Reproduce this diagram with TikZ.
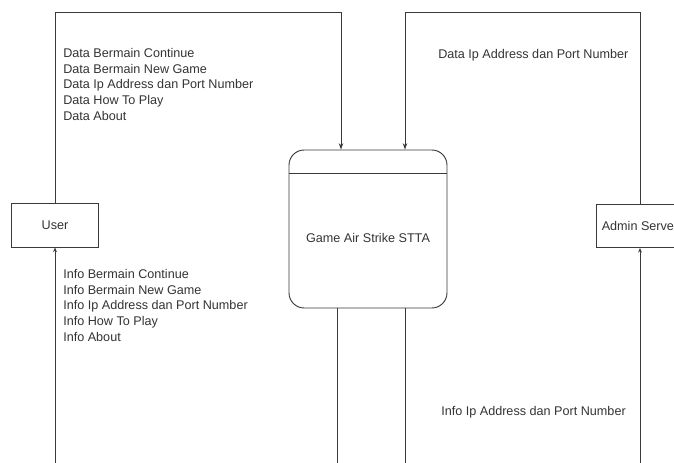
\documentclass[tikz,border=0pt]{standalone}
\usepackage{fontspec}
\setmainfont{Liberation Sans}
\usetikzlibrary{arrows.meta, positioning, calc}
\definecolor{garis}{HTML}{3A3A3A}
\definecolor{tulisan}{HTML}{333333}
\newcommand{\teks}{\fontsize{9.5}{11.8}\selectfont}

\begin{document}
\begin{tikzpicture}[x=0.02646cm, y=-0.02646cm,
    entitas/.style={draw=garis, line width=0.7pt, minimum width=2.28cm, minimum height=1.14cm,
                    text=tulisan, font=\teks},
    proses/.style={draw=garis, line width=0.7pt, rounded corners=0.4cm, minimum width=4.18cm,
                   minimum height=4.18cm},
    keterangan/.style={anchor=north west, inner sep=0pt, align=left, text=tulisan, font=\teks},
    alur/.style={draw=garis, line width=0.7pt},
    aliran/.style={alur, -{Stealth[length=1.7mm, width=1.2mm]}},
    aliranKecil/.style={alur, -{Stealth[length=1.2mm, width=1mm]}}
]
    \useasboundingbox (0,0) rectangle (674,463);
    \clip (0,0) rectangle (674,463);

    \node[entitas] (user) at (55,225.5) {User};
    \node[entitas] (admin) at (640,226) {Admin Server};
    \node[proses, label={[text=tulisan, font=\teks, yshift=-0.24cm]center:Game Air Strike STTA}] (game) at (368,229) {};

    \coordinate (sekat) at (0,173);
    \draw[alur] (game.west |- sekat) -- (game.east |- sekat);

    % titik bantu
    \coordinate (atas) at (0,12);
    \coordinate (bawah) at (0,470);
    \coordinate (masuk1) at (341,0);
    \coordinate (masuk2) at (405,0);
    \coordinate (keluar1) at (337,0);
    \coordinate (keluar2) at (405,0);

    \draw[aliran] (user.north) |- (atas -| masuk1) -- (masuk1 |- game.north);
    \draw[aliran] (admin.north) |- (atas -| masuk2) -- (masuk2 |- game.north);
    \draw[alur] (keluar1 |- game.south) -- (keluar1 |- bawah);
    \draw[alur] (keluar2 |- game.south) -- (keluar2 |- bawah);
    \draw[aliranKecil] (user.south |- bawah) -- (user.south);
    \draw[aliranKecil] (admin.south |- bawah) -- (admin.south);

    \node[keterangan] (dataUser) at (63,48) {Data Bermain Continue\\Data Bermain New Game\\Data Ip Address dan Port Number\\Data How To Play\\Data About};
    \node[keterangan] (infoUser) at (63,269) {Info Bermain Continue\\Info Bermain New Game\\Info Ip Address dan Port Number\\Info How To Play\\Info About};
    \node[keterangan] (dataAdmin) at (438,49) {Data Ip Address dan Port Number};
    \node[keterangan] (infoAdmin) at (441,406) {Info Ip Address dan Port Number};
\end{tikzpicture}
\end{document}
